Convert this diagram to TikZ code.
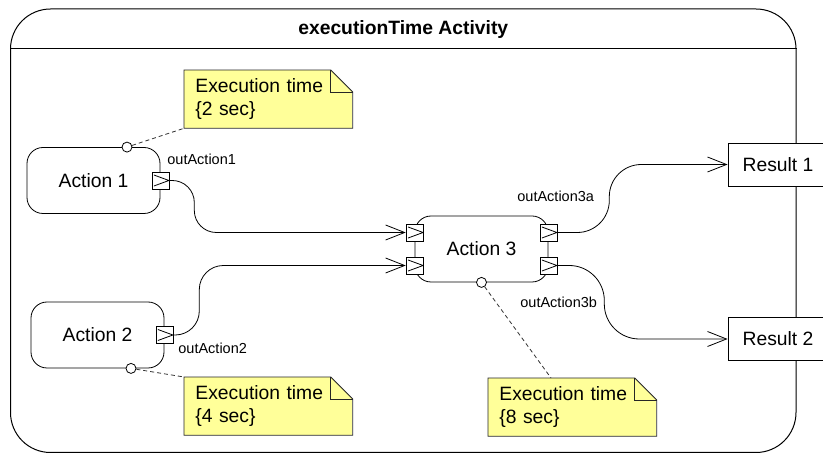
\documentclass[tikz,border=0pt]{standalone}
\usepackage{fontspec}
\setmainfont{Liberation Sans}
\usetikzlibrary{arrows.meta,positioning}

\definecolor{noteyellow}{RGB}{255,255,153}
\newcommand{\mainfs}{\fontsize{19.3}{23.5}\selectfont}
\newcommand{\pinfs}{\fontsize{14.5}{17}\selectfont}
% dog-eared outline of a note node
\newcommand{\notefold}[1]{%
  \fill[white] ([xshift=-22pt]#1.north east) -- (#1.north east) -- ([yshift=-22pt]#1.north east) -- cycle;
  \draw[notebox] (#1.north west) -- ([xshift=-22pt]#1.north east) -- ([yshift=-22pt]#1.north east)
    -- (#1.south east) -- (#1.south west) -- cycle;
  \draw[notebox] ([xshift=-22pt]#1.north east) |- ([yshift=-22pt]#1.north east);
}

\begin{document}
\begin{tikzpicture}[x=1pt, y=-1pt, line width=0.8pt,
  every node/.style={font=\mainfs},
  actframe/.style={draw, line width=1pt, rounded corners=40pt, minimum width=785.5pt, minimum height=443.5pt},
  act/.style={draw, fill=white, rounded corners=16pt, minimum width=133pt, minimum height=66pt},
  result/.style={draw, fill=white, minimum width=100pt, minimum height=43pt},
  portbox/.style={draw, fill=white, minimum size=17pt, inner sep=0pt,
    path picture={\draw ([shift={(2pt,-3pt)}]path picture bounding box.north west)
      -- (path picture bounding box.east) -- ([shift={(2pt,3pt)}]path picture bounding box.south west);}},
  portlbl/.style={font=\pinfs, anchor=west, inner sep=1pt},
  ringdot/.style={circle, draw, fill=white, minimum size=10pt, inner sep=0pt},
  note/.style={fill=noteyellow, anchor=north west, minimum height=57pt, text width=146pt,
    inner xsep=11pt, inner ysep=8pt, align=left},
  notebox/.style={draw=black!85, line width=0.8pt},
  flow/.style={-{Straight Barb[length=19pt,width=15pt]}},
  notelink/.style={black!80, dash pattern=on 4pt off 3pt}
]
  \useasboundingbox (0,0) rectangle (823,454);

  % activity frame
  \node[actframe] (fr) at (403.25,230.75) {};
  \node[font=\mainfs\bfseries] (title) at ([yshift=-21pt]fr.north) {executionTime Activity};
  \draw[line width=1pt] ([yshift=-40pt]fr.north west) -- ([yshift=-40pt]fr.north east);

  % actions
  \node[act] (act1) at (93.5,180.5) {Action 1};
  \node[act] (act2) at (97.5,335) {Action 2};
  \node[act] (act3) at (481.5,249) {Action 3};

  % pins
  \node[portbox] (p1) at (act1.east) {};
  \node[portbox] (p2) at (act2.east) {};
  \node[portbox] (p3in1) at ([yshift=16.5pt]act3.west) {};
  \node[portbox] (p3in2) at ([yshift=-16.5pt]act3.west) {};
  \node[portbox] (p3a) at ([yshift=16.5pt]act3.east) {};
  \node[portbox] (p3b) at ([yshift=-16.5pt]act3.east) {};

  % results
  \node[result] (res1) at (778,164.5) {Result 1};
  \node[result] (res2) at (778,339) {Result 2};

  % notes
  \node[note] (note1) at (184,70) {Execution time\\\{2 sec\}};
  \notefold{note1}
  \node[note] (note2) at (184,377) {Execution time\\\{4 sec\}};
  \notefold{note2}
  \node[note] (note3) at (488,378) {Execution time\\\{8 sec\}};
  \notefold{note3}

  \node[ringdot] (c1) at ([xshift=33.5pt]act1.north) {};
  \node[ringdot] (c2) at ([xshift=33.5pt]act2.south) {};
  \node[ringdot] (c3) at (act3.south) {};

  % object flows
  \draw[flow, rounded corners=22pt] (p1.east) -- ++(25,0) |- (p3in1.west);
  \draw[flow, rounded corners=24pt] (p2.east) -- ++(26,0) |- (p3in2.west);
  \draw[flow, rounded corners=32pt] (p3a.east) -- ++(52,0) |- (res1.west);
  \draw[flow, rounded corners=35pt] (p3b.east) -- ++(47,0) |- (res2.west);

  \node[portlbl] (l1) at (166,159) {outAction1};
  \node[portlbl] (l2) at (177,348) {outAction2};
  \node[portlbl] (l3a) at (516,196) {outAction3a};
  \node[portlbl] (l3b) at (519,302) {outAction3b};

  % note anchors
  \draw[notelink] (c1) -- (note1.south west);
  \draw[notelink] (c2) -- (note2.north west);
  \draw[notelink] (c3) -- ([xshift=63pt]note3.north west);
\end{tikzpicture}
\end{document}
